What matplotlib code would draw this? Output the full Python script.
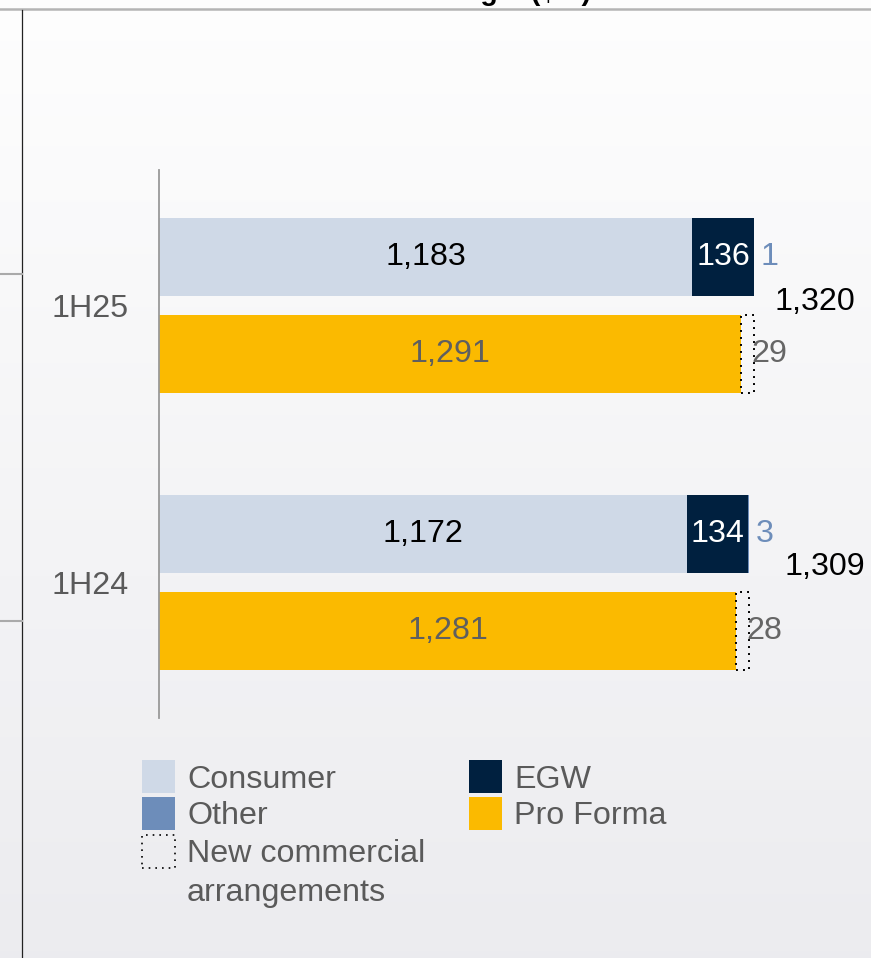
import matplotlib.pyplot as plt
import numpy as np
from matplotlib.lines import Line2D
from matplotlib.patches import Rectangle

plt.rcParams["font.family"] = ["Liberation Sans", "DejaVu Sans"]

# data ($m)
periods = ["1H25", "1H24"]
consumer = [1183, 1172]
egw = [136, 134]
other = [1, 3]
pro_forma = [1291, 1281]
new_commercial = [29, 28]
totals = [1320, 1309]

# colours
C_CONSUMER = "#cfd9e7"
C_EGW = "#00203f"
C_OTHER = "#6d8dba"
C_PRO_FORMA = "#fbba00"
C_GREY_TEXT = "#5a5a5a"

W, H = 871, 958
FS = 23.2


def fx(x):
    return x / W


def fy(y):
    return 1 - y / H


fig = plt.figure(figsize=(W / 100, H / 100), dpi=100)

# slide background: soft vertical gradient
bg = fig.add_axes([0, 0, 1, 1], zorder=0)
grad = np.linspace(0, 1, 256)[:, None]
top = np.array([0.995, 0.995, 0.995])
bot = np.array([0.925, 0.925, 0.938])
img = top[None, None, :] * (1 - grad[..., None]) + bot[None, None, :] * grad[..., None]
bg.imshow(img, aspect="auto", extent=[0, 1, 0, 1])
bg.set_axis_off()

# slide furniture
fig.add_artist(Line2D([0, 1], [fy(9), fy(9)], color="#b4b4b4", lw=1.8))
fig.add_artist(Line2D([fx(22), fx(22)], [fy(10), 0], color="#222222", lw=0.9))
for yy in (274, 621):
    fig.add_artist(Line2D([0, fx(22)], [fy(yy), fy(yy)], color="#aaaaaa", lw=1.5))
# title sits mostly above the crop; only its descenders show
fig.text(fx(338), fy(-0.5), "Gross margin ($m)", fontsize=20.5, fontweight="bold",
         ha="left", va="baseline", color="black")

# main chart
px_per_unit = 0.4508
ax = fig.add_axes([fx(159), fy(718), fx(W - 159), (718 - 170) / H], zorder=2)
ax.patch.set_alpha(0)
ax.set_xlim(0, (W - 159) / px_per_unit)
ax.set_ylim(-0.489, 1.489)

ypos = np.array([1, 0])
off = 0.175
bh = 0.282
y_top = ypos + off
y_bot = ypos - off

cons = np.array(consumer)
egw_a = np.array(egw)
oth = np.array(other)
pf = np.array(pro_forma)
nc = np.array(new_commercial)

ax.barh(y_top, cons, height=bh, color=C_CONSUMER)
ax.barh(y_top, egw_a, left=cons, height=bh, color=C_EGW)
ax.barh(y_top, oth, left=cons + egw_a, height=bh, color=C_OTHER)
ax.barh(y_bot, pf, height=bh, color=C_PRO_FORMA)
ax.barh(y_bot, nc, left=pf, height=bh, fill=False, edgecolor="black",
        linestyle=(0, (1, 2.6)), lw=1.4)

for i in range(len(periods)):
    ax.text(cons[i] / 2, y_top[i], f"{cons[i]:,}", ha="center", va="center",
            fontsize=FS, color="black")
    ax.text(cons[i] + egw_a[i] / 2, y_top[i], f"{egw_a[i]:,}", ha="center", va="center",
            fontsize=FS, color="white")
    ax.text(cons[i] + egw_a[i] + oth[i] + 14, y_top[i], f"{oth[i]:,}", ha="left",
            va="center", fontsize=FS, color=C_OTHER)
    ax.text(pf[i] / 2, y_bot[i], f"{pf[i]:,}", ha="center", va="center",
            fontsize=FS, color="#5f5f5f")
    ax.text(pf[i] + nc[i] - 6, y_bot[i], f"{nc[i]:,}", ha="left", va="center",
            fontsize=FS, color="#666666")

# total labels
total_dx = [45, 78]
total_dy = [0.013, 0.056]
for i, t in enumerate(totals):
    ax.text(t + total_dx[i], ypos[i] + total_dy[i], f"{t:,}", ha="left", va="center",
            fontsize=FS, color="black")

ax.set_yticks(ypos, periods)
ax.tick_params(axis="y", length=0, pad=22, labelsize=FS, labelcolor=C_GREY_TEXT)
ax.set_xticks([])
for s in ("top", "right", "bottom"):
    ax.spines[s].set_visible(False)
ax.spines["left"].set_color("#999999")
ax.spines["left"].set_linewidth(1.3)

# legend
sq = 33
legend_items = [
    (142, 760, C_CONSUMER, False, ["Consumer"]),
    (142, 797, C_OTHER, False, ["Other"]),
    (142, 835, None, True, ["New commercial", "arrangements"]),
    (469, 760, C_EGW, False, ["EGW"]),
    (469, 797, C_PRO_FORMA, False, ["Pro Forma"]),
]
for x0, y0, col, dotted, lines in legend_items:
    if dotted:
        r = Rectangle((fx(x0), fy(y0 + sq)), fx(sq), sq / H, transform=fig.transFigure,
                      fill=False, edgecolor="black", linestyle=(0, (1, 3)), lw=1.2)
    else:
        r = Rectangle((fx(x0), fy(y0 + sq)), fx(sq), sq / H, transform=fig.transFigure,
                      facecolor=col, edgecolor="none")
    fig.add_artist(r)
    for k, line in enumerate(lines):
        fig.text(fx(x0 + sq + 12), fy(y0 + sq / 2 + 3 + 38 * k), line, ha="left",
                 va="center", fontsize=FS, color=C_GREY_TEXT)

fig.savefig("out.png", dpi=100)
